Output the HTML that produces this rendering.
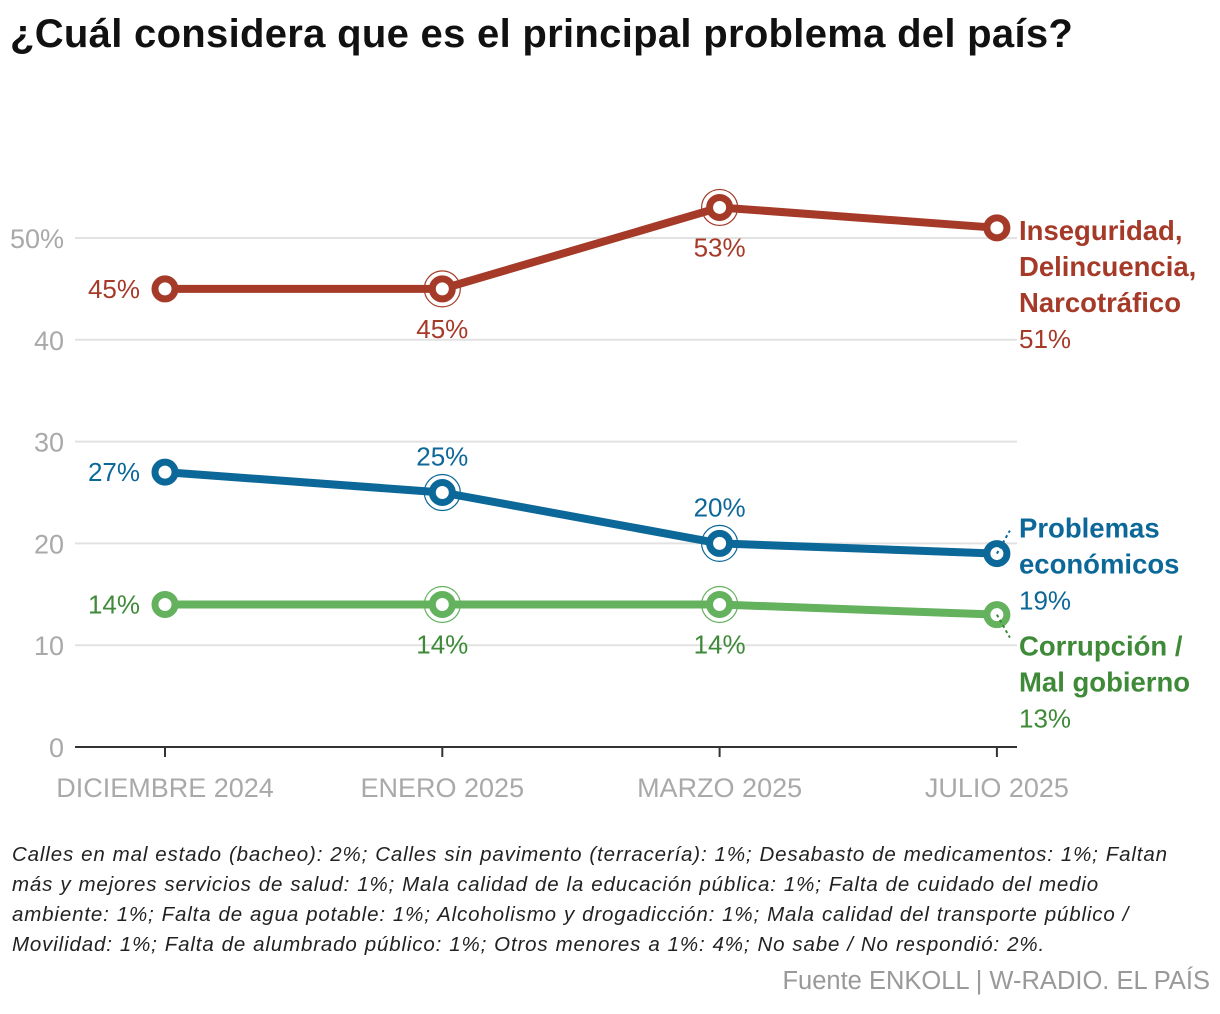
<!DOCTYPE html>
<html><head><meta charset="utf-8"><style>
body{margin:0;background:#fff;width:1220px;height:1014px;overflow:hidden;font-family:"Liberation Sans",sans-serif}
#title{position:absolute;left:10px;top:12px;font-size:40px;font-weight:bold;color:#111;letter-spacing:0.3px}
#note{position:absolute;left:12px;top:840px;width:1180px;font-size:20.5px;letter-spacing:0.85px;word-spacing:0.5px;font-style:italic;line-height:30px;color:#222}
#src{position:absolute;right:10px;top:967px;font-size:25.5px;color:#999}
</style></head><body>
<div id="title">¿Cuál considera que es el principal problema del país?</div>
<svg id="chart" width="1220" height="830" style="position:absolute;left:0;top:0"></svg>
<div id="note">Calles en mal estado (bacheo): 2%; Calles sin pavimento (terracería): 1%; Desabasto de medicamentos: 1%; Faltan<br>más y mejores servicios de salud: 1%; Mala calidad de la educación pública: 1%; Falta de cuidado del medio<br>ambiente: 1%; Falta de agua potable: 1%; Alcoholismo y drogadicción: 1%; Mala calidad del transporte público /<br>Movilidad: 1%; Falta de alumbrado público: 1%; Otros menores a 1%: 4%; No sabe / No respondió: 2%.</div>
<div id="src">Fuente ENKOLL | W-RADIO. EL PAÍS</div>
<script>
const categories=["DICIEMBRE 2024","ENERO 2025","MARZO 2025","JULIO 2025"];
const inseguridad=[45,45,53,51];
const economicos=[27,25,20,19];
const corrupcion=[14,14,14,13];
const yTicks=[0,10,20,30,40,50];
const yTickLabels=["0","10","20","30","40","50%"];
const svg=document.getElementById('chart');const NS="http://www.w3.org/2000/svg";
const x=i=>165+i*277.3;const y=v=>747-v*10.18;
function el(t,a,p){const e=document.createElementNS(NS,t);for(const k in a)e.setAttribute(k,a[k]);(p||svg).appendChild(e);return e;}
yTicks.forEach((v,i)=>{
 if(v>0){const g=el('line',{x1:75,x2:1017,y1:y(v),y2:y(v),stroke:'#e2e2e2','stroke-width':2});}
 const t=el('text',{x:64,y:y(v)+10,'text-anchor':'end','font-size':27,fill:'#a9a9a9'});t.textContent=yTickLabels[i];
 
});
const ax=el('line',{x1:75,x2:1017,y1:747,y2:747,stroke:'#333','stroke-width':2});

categories.forEach((c,i)=>{
 el('line',{x1:x(i),x2:x(i),y1:747,y2:757,stroke:'#333','stroke-width':2});
 const t=el('text',{x:x(i),y:797,'text-anchor':'middle','font-size':27,fill:'#a9a9a9'});t.textContent=c;
 
});
const series=[
 {name:'inseguridad',d:inseguridad,c:'#a63a29',lc:'#a63a29',lab:['left','below','below'],title:['Inseguridad,','Delincuencia,','Narcotráfico'],ty:y(51)+12,lead:false},
 {name:'economicos',d:economicos,c:'#0c6898',lc:'#0c6898',lab:['left','above','above'],title:['Problemas','económicos'],ty:y(19)-16,lead:true},
 {name:'corrupcion',d:corrupcion,c:'#64b15e',lc:'#3e8a38',lab:['left','below','below'],title:['Corrupción /','Mal gobierno'],ty:y(13)+41,lead:true}
];
series.forEach(s=>{
 const pts=s.d.map((v,i)=>x(i)+','+y(v)).join(' ');
 const pl=el('polyline',{points:pts,fill:'none',stroke:s.c,'stroke-width':8,'stroke-linejoin':'round'});
 
 s.d.forEach((v,i)=>{
  if(i==1||i==2){el('circle',{cx:x(i),cy:y(v),r:18,fill:'none',stroke:s.c,'stroke-width':1.2});}
  const m=el('circle',{cx:x(i),cy:y(v),r:10,fill:'#fff',stroke:s.c,'stroke-width':7});
  
  if(i<3){
   let tx=x(i),ty=y(v),a='middle';
   if(s.lab[i]=='left'){tx-=25;ty+=9;a='end';}else if(s.lab[i]=='below'){ty+=49;}else{ty-=27;}
   const t=el('text',{x:tx,y:ty,'text-anchor':a,'font-size':26,fill:s.lc});t.textContent=v+'%';
   
  }
 });
 const ly=s.ty;
 s.title.forEach((tt,k)=>{const t=el('text',{x:1019,y:ly+k*36,'font-size':27.5,'font-weight':'bold',fill:s.lc});t.textContent=tt;
  });
 const t=el('text',{x:1019,y:ly+s.title.length*36,'font-size':26,fill:s.lc});t.textContent=s.d[3]+'%';
 
 if(s.lead){const yy=y(s.d[3]);const dy=s.name=='economicos'?-1:1;
  el('line',{x1:x(3),y1:yy,x2:x(3)+13,y2:yy+dy*23,stroke:s.lc,'stroke-width':2,'stroke-dasharray':'3,3'});}
});
</script>
</body></html>
